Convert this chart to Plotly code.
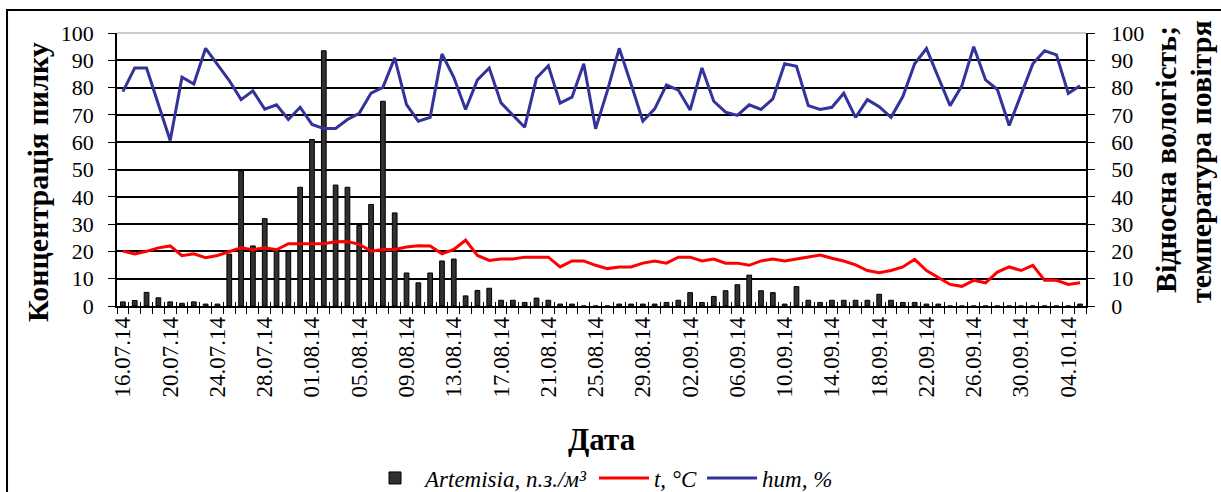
import plotly.graph_objects as go
import datetime as dt

# ---- data ----
start = dt.date(2014, 7, 16)
n_days = 82
dates = [(start + dt.timedelta(days=i)).strftime("%d.%m.%y") for i in range(n_days)]

artemisia = [1.5, 2, 5, 3, 1.5, 1, 1.5, 0.7, 0.7, 19,
             49.5, 22, 32, 20.4, 20, 43.5, 61, 93.5, 44.3, 43.5,
             29.5, 37.2, 75, 34.1, 12.1, 8.5, 12.1, 16.5, 17.2, 3.7,
             5.7, 6.5, 2.1, 2.1, 1.3, 2.9, 2.1, 0.7, 0.7, 0,
             0, 0, 0.7, 0.7, 0.7, 0.7, 1.3, 2.1, 4.9, 1.3,
             3.5, 5.6, 7.8, 11.3, 5.6, 4.9, 0.7, 7.1, 2.1, 1.3,
             2.1, 2.1, 2.1, 2.1, 4.3, 2.1, 1.3, 1.3, 0.7, 0.7,
             0, 0, 0, 0, 0, 0, 0, 0, 0, 0,
             0, 0.7]

temp = [20.1, 19.1, 20, 21.3, 22, 18.4, 19.1, 17.7, 18.5, 20,
        21.3, 20.6, 21.3, 20.6, 22.8, 22.8, 22.8, 22.8, 23.5, 23.6,
        22.6, 20.1, 20.7, 20.7, 21.6, 22.1, 22, 19.1, 20.7, 24.1,
        18.5, 16.7, 17.2, 17.2, 17.9, 17.9, 17.9, 14.3, 16.5, 16.5,
        14.9, 13.7, 14.3, 14.3, 15.7, 16.5, 15.7, 17.9, 17.9, 16.5,
        17.2, 15.7, 15.7, 14.9, 16.5, 17.2, 16.5, 17.2, 17.9, 18.7,
        17.5, 16.5, 15.1, 13, 12.2, 13, 14.3, 17.1, 13, 10.6,
        7.9, 7.2, 9.4, 8.5, 12.4, 14.3, 13, 14.9, 9.4, 9.4,
        7.9, 8.5]

hum = [78.5, 87.2, 87.2, 74, 60.6, 83.8, 81.3, 94.4, 88.7, 82.6,
       75.6, 78.8, 72.1, 73.7, 68.3, 72.8, 66.5, 65, 65, 68.3,
       70.6, 78, 80.1, 90.9, 73.8, 67.7, 69.1, 92.3, 83.8, 72,
       82.8, 87.2, 74.4, 70, 65.5, 83.5, 88, 74.3, 76.5, 88.7,
       64.9, 78.9, 94.4, 81.3, 67.7, 72.2, 81, 79.1, 71.8, 87.2,
       75, 71, 69.8, 73.7, 72, 75.9, 88.7, 87.8, 73.4, 72,
       72.8, 77.9, 69.1, 75.6, 73, 69.1, 76.7, 88.7, 94.3, 83.8,
       73.4, 80.7, 95, 82.8, 79.3, 66.1, 77.1, 88.7, 93.5, 92,
       77.9, 80.7]

tick_text = [d if i % 4 == 0 else "" for i, d in enumerate(dates)]

SERIF = "'Liberation Serif', 'Times New Roman', 'DejaVu Serif', serif"

fig = go.Figure()
fig.add_trace(go.Bar(
    x=dates, y=artemisia, name="Artemisia, п.з./м³",
    marker=dict(color="#303030", line=dict(color="black", width=1)),
    yaxis="y", xaxis="x",
))
fig.add_trace(go.Scatter(
    x=dates, y=temp, name="t, °C", mode="lines",
    line=dict(color="#ff0000", width=3), yaxis="y2", xaxis="x",
))
fig.add_trace(go.Scatter(
    x=dates, y=hum, name="hum, %", mode="lines",
    line=dict(color="#333399", width=3), yaxis="y2", xaxis="x",
))
# helper trace to carry the inside half of the cross tick marks
fig.add_trace(go.Scatter(
    x=dates, y=[None] * n_days, xaxis="x3", yaxis="y",
    showlegend=False, hoverinfo="skip", mode="lines",
))

fig.update_layout(
    width=1221, height=492,
    margin=dict(l=117, r=135, t=33, b=186, autoexpand=False),
    paper_bgcolor="white", plot_bgcolor="white",
    bargap=0.6,
    font=dict(family=SERIF, size=20, color="black"),
    showlegend=True,
    legend=dict(orientation="h", x=0.5, xanchor="center",
                yref="container", y=1 - 478 / 492, yanchor="middle",
                font=dict(family=SERIF, size=23, style="italic"),
                itemwidth=50, tracegroupgap=0),
    xaxis=dict(type="category", categoryorder="array", categoryarray=dates,
               range=[-0.5, n_days - 0.5], automargin=False,
               tickmode="array", tickvals=dates, ticktext=tick_text,
               tickangle=-90, tickson="boundaries",
               ticks="outside", ticklen=6, tickwidth=1.3, tickcolor="black",
               showline=True, linecolor="black", linewidth=1.5,
               showgrid=False, zeroline=False,
               tickfont=dict(family=SERIF, size=23)),
    xaxis3=dict(type="category", categoryorder="array", categoryarray=dates,
                overlaying="x", anchor="y", automargin=False,
                range=[-0.5, n_days - 0.5],
                tickmode="array", tickvals=dates, ticktext=[""] * n_days,
                tickson="boundaries", ticks="inside", ticklen=4, tickwidth=1.3,
                tickcolor="black", showticklabels=False,
                showline=False, showgrid=False, zeroline=False),
    yaxis=dict(range=[0, 100], dtick=10, tick0=0, automargin=False,
               showgrid=True, gridcolor="black", gridwidth=1.5,
               ticks="outside", ticklen=7, tickwidth=1.3, tickcolor="black",
               showline=True, linecolor="black", linewidth=1.5,
               zeroline=False, ticklabelstandoff=10,
               tickfont=dict(family=SERIF, size=22)),
    yaxis2=dict(range=[0, 100], dtick=10, tick0=0, overlaying="y", side="right",
                automargin=False,
                showgrid=False, ticks="outside", ticklen=7, tickwidth=1.3,
                tickcolor="black", showline=True, linecolor="black", linewidth=1.5,
                zeroline=False, ticklabelstandoff=12,
                tickfont=dict(family=SERIF, size=22)),
)

# top border of plot area (light grey)
fig.add_shape(type="line", xref="paper", yref="paper", x0=0, x1=1, y0=1, y1=1,
              line=dict(color="#bdbdbd", width=1.5), layer="above")
# outer chart frame
fig.add_shape(type="rect", xref="paper", yref="paper",
              x0=-0.1135, x1=1.2, y0=-0.75, y1=1.084,
              line=dict(color="black", width=2), fillcolor="rgba(0,0,0,0)", layer="below")

fig.add_annotation(text="<b>Дата</b>", xref="paper", yref="paper", x=0.5, y=-0.49,
                   showarrow=False, font=dict(family=SERIF, size=31),
                   xanchor="center", yanchor="middle")
fig.add_annotation(text="<b>Концентрація пилку</b>", xref="paper", yref="paper",
                   x=(37 - 117) / 969, y=(306 - 182) / 273, textangle=-90, showarrow=False,
                   font=dict(family=SERIF, size=30), xanchor="center", yanchor="middle")
fig.add_annotation(text="<b>Відносна вологість;</b>",
                   xref="paper", yref="paper", x=(1165 - 117) / 969, y=(306 - 160) / 273,
                   textangle=-90, showarrow=False, font=dict(family=SERIF, size=30),
                   xanchor="center", yanchor="middle")
fig.add_annotation(text="<b>температура повітря</b>",
                   xref="paper", yref="paper", x=(1200 - 117) / 969, y=(306 - 162) / 273,
                   textangle=-90, showarrow=False, font=dict(family=SERIF, size=30),
                   xanchor="center", yanchor="middle")

fig.write_html("out.html", config={"displayModeBar": False},
               post_script="document.body.style.margin='0';")
